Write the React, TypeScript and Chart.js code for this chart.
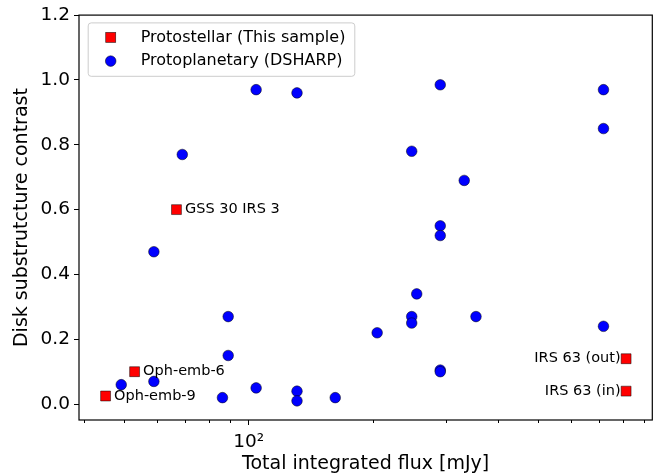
import React, { useEffect, useRef } from 'react';
import { Chart, registerables } from 'chart.js';

Chart.register(...registerables);

// ---- data ----
const protoNames = ['GSS 30 IRS 3', 'Oph-emb-6', 'Oph-emb-9', 'IRS 63 (out)', 'IRS 63 (in)'];
const protoFlux = [66.9, 53.0, 45.1, 816, 816];
const protoContrast = [0.60, 0.10, 0.025, 0.14, 0.04];

const dsharpFlux = [
  49.2, 59.0, 59.0, 69.1, 89.2, 89.2, 86.4, 104.2, 104.2, 130.8, 130.8, 130.8,
  161.8, 204.3, 247.6, 247.6, 247.6, 254.6, 290.2, 290.2, 290.2, 290.2, 290.2,
  331.6, 354.0, 719.5, 719.5, 719.5,
];
const dsharpContrast = [
  0.06, 0.07, 0.47, 0.77, 0.27, 0.15, 0.02, 0.97, 0.05, 0.96, 0.04, 0.01,
  0.02, 0.22, 0.78, 0.27, 0.25, 0.34, 0.985, 0.55, 0.52, 0.105, 0.10,
  0.69, 0.27, 0.97, 0.85, 0.24,
];

const yTicks = [0, 0.2, 0.4, 0.6, 0.8, 1.0, 1.2];
const xMajorTicks = [100];
const xMinorTicks = [40, 50, 60, 70, 80, 90, 200, 300, 400, 500, 600, 700, 800, 900];
const legendLabels = ['Protostellar (This sample)', 'Protoplanetary (DSHARP)'];
const xTitle = 'Total integrated flux [mJy]';
const yTitle = 'Disk substrutcture contrast';

const FONT = "'DejaVu Sans', sans-serif";

const framePlugin = {
  id: 'frameTicks',
  afterDraw(chart: any) {
    const { ctx, chartArea } = chart;
    const { left, top, right, bottom } = chartArea;
    const xs = chart.scales.x;
    ctx.save();
    ctx.strokeStyle = '#000';
    ctx.lineWidth = 1;
    for (const v of xMinorTicks) {
      const px = Math.round(xs.getPixelForValue(v)) + 0.5;
      ctx.beginPath();
      ctx.moveTo(px, bottom);
      ctx.lineTo(px, bottom + 3);
      ctx.stroke();
    }
    ctx.lineWidth = 1.2;
    ctx.strokeRect(left, top, right - left, bottom - top);
    ctx.restore();
  },
};

const annotatePlugin = {
  id: 'annotate',
  afterDatasetsDraw(chart: any) {
    const { ctx } = chart;
    const meta = chart.getDatasetMeta(0);
    ctx.save();
    ctx.font = `14.5px ${FONT}`;
    ctx.fillStyle = '#000';
    ctx.textBaseline = 'middle';
    meta.data.forEach((pt: any, i: number) => {
      const onLeft = protoFlux[i] > 500;
      if (onLeft) {
        ctx.textAlign = 'right';
        ctx.fillText(protoNames[i], pt.x - 5.5, pt.y);
      } else {
        ctx.textAlign = 'left';
        ctx.fillText(protoNames[i], pt.x + 8.5, pt.y);
      }
    });
    ctx.restore();
  },
};

const legendPlugin = {
  id: 'mplLegend',
  afterDraw(chart: any) {
    const { ctx, chartArea } = chart;
    const bx = chartArea.left + 8.7;
    const by = chartArea.top + 7.3;
    const bw = 266.6;
    const bh = 53.4;
    ctx.save();
    ctx.beginPath();
    ctx.roundRect(bx + 0.5, by + 0.5, bw, bh, 3);
    ctx.fillStyle = 'rgba(255,255,255,0.8)';
    ctx.fill();
    ctx.strokeStyle = '#cccccc';
    ctx.lineWidth = 1;
    ctx.stroke();

    const mx = bx + 23;
    const y1 = by + 15;
    const y2 = by + 38.7;
    // square
    ctx.fillStyle = '#ff0000';
    ctx.fillRect(mx - 5, y1 - 5, 10, 10);
    ctx.strokeStyle = 'rgba(0,0,0,0.7)';
    ctx.lineWidth = 0.7;
    ctx.strokeRect(mx - 5, y1 - 5, 10, 10);
    // circle
    ctx.beginPath();
    ctx.arc(mx, y2, 5.3, 0, Math.PI * 2);
    ctx.fillStyle = '#0000ff';
    ctx.fill();
    ctx.stroke();

    ctx.fillStyle = '#000';
    ctx.font = `16px ${FONT}`;
    ctx.textBaseline = 'middle';
    ctx.textAlign = 'left';
    ctx.fillText(legendLabels[0], bx + 53, y1);
    ctx.fillText(legendLabels[1], bx + 53, y2);
    ctx.restore();
  },
};

export default function App() {
  const ref = useRef<HTMLCanvasElement | null>(null);

  useEffect(() => {
    if (!ref.current) return;
    const chart = new Chart(ref.current, {
      type: 'scatter',
      data: {
        datasets: [
          {
            label: legendLabels[0],
            data: protoFlux.map((x, i) => ({ x, y: protoContrast[i] })),
            pointStyle: 'rect',
            pointRadius: 7,
            backgroundColor: '#ff0000',
            borderColor: 'rgba(0,0,0,0.7)',
            borderWidth: 0.7,
          },
          {
            label: legendLabels[1],
            data: dsharpFlux.map((x, i) => ({ x, y: dsharpContrast[i] })),
            pointStyle: 'circle',
            pointRadius: 5.3,
            backgroundColor: '#0000ff',
            borderColor: 'rgba(0,0,0,0.7)',
            borderWidth: 0.7,
          },
        ],
      },
      options: {
        animation: false,
        responsive: false,
        events: [],
        layout: { padding: { top: 15, right: 6, left: 0, bottom: 0 } },
        plugins: {
          legend: { display: false },
          tooltip: { enabled: false },
        },
        scales: {
          x: {
            type: 'logarithmic',
            min: 38.9,
            max: 944,
            afterBuildTicks: (scale: any) => {
              scale.ticks = xMajorTicks.map((v) => ({ value: v, major: true }));
            },
            afterFit: (scale: any) => {
              scale.height = 56;
            },
            border: { display: false },
            grid: {
              display: true,
              drawOnChartArea: false,
              drawTicks: true,
              tickLength: 5,
              tickColor: '#000',
              tickWidth: 1,
            },
            ticks: {
              autoSkip: false,
              maxRotation: 0,
              padding: 6,
              color: '#000',
              font: { family: FONT, size: 18.5 },
              callback: (v: any) => (Number(v) === 100 ? '10²' : ''),
            },
            title: {
              display: true,
              text: xTitle,
              color: '#000',
              font: { family: FONT, size: 19 },
              padding: { top: 0, bottom: 1 },
            },
          },
          y: {
            type: 'linear',
            min: -0.049,
            max: 1.2,
            afterBuildTicks: (scale: any) => {
              scale.ticks = yTicks.map((v) => ({ value: v }));
            },
            afterFit: (scale: any) => {
              scale.width = 79;
            },
            border: { display: false },
            grid: {
              display: true,
              drawOnChartArea: false,
              drawTicks: true,
              tickLength: 5,
              tickColor: '#000',
              tickWidth: 1,
            },
            ticks: {
              autoSkip: false,
              padding: 4,
              color: '#000',
              font: { family: FONT, size: 18.5 },
              callback: (v: any) => Number(v).toFixed(1),
            },
            title: {
              display: true,
              text: yTitle,
              color: '#000',
              font: { family: FONT, size: 19 },
              padding: { top: 11, bottom: 0 },
            },
          },
        },
      },
      plugins: [framePlugin, annotatePlugin, legendPlugin],
    } as any);
    return () => chart.destroy();
  }, []);

  return (
    <div style={{ position: 'fixed', left: 0, top: 0, width: 660, height: 476, background: '#fff' }}>
      <canvas ref={ref} width={660} height={476} style={{ display: 'block' }} />
    </div>
  );
}
